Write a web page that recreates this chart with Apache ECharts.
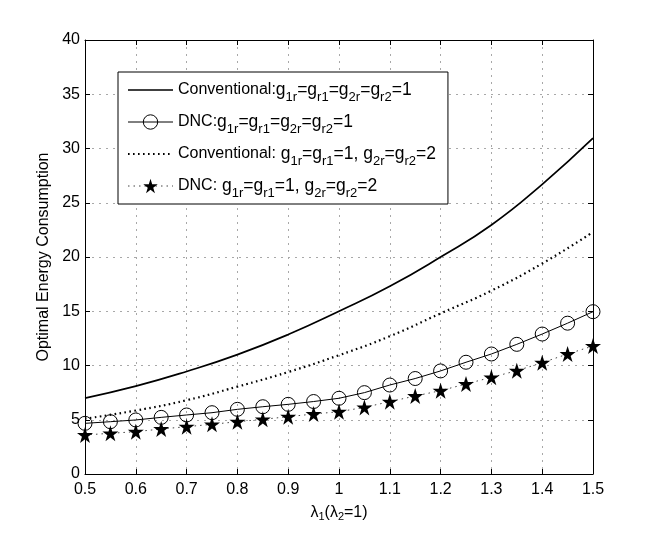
<!DOCTYPE html>
<html>
<head>
<meta charset="UTF-8">
<title>Optimal Energy Consumption</title>
<script src="https://cdn.jsdelivr.net/npm/echarts@6/dist/echarts.min.js"></script>
<style>
  html, body { margin: 0; padding: 0; background: #fff; }
  #main { width: 654px; height: 541px; }
</style>
</head>
<body>
<div id="main"></div>
<script>
// x values: markers every 0.05, plain curves read every 0.1
var xFine = [0.5, 0.55, 0.6, 0.65, 0.7, 0.75, 0.8, 0.85, 0.9, 0.95, 1.0,
             1.05, 1.1, 1.15, 1.2, 1.25, 1.3, 1.35, 1.4, 1.45, 1.5];
var xCoarse = [0.5, 0.6, 0.7, 0.8, 0.9, 1.0, 1.1, 1.2, 1.3, 1.4, 1.5];

// conventional, all gains 1 (solid)
var convSame = [7.0, 8.1, 9.45, 11.0, 12.85, 15.0, 17.3, 20.0, 22.95, 26.7, 30.95];
// DNC, all gains 1 (circles)
var dncSame = [4.67, 4.82, 4.98, 5.22, 5.44, 5.65, 5.96, 6.2, 6.42, 6.68, 6.98,
               7.5, 8.2, 8.8, 9.5, 10.3, 11.06, 11.95, 12.9, 13.9, 14.96];
// conventional, g2 = 2 (dotted)
var convDiff = [5.1, 5.85, 6.8, 8.05, 9.4, 10.95, 12.7, 14.8, 16.9, 19.4, 22.3];
// DNC, g2 = 2 (stars)
var dncDiff = [3.6, 3.75, 3.9, 4.15, 4.36, 4.58, 4.82, 5.04, 5.28, 5.53, 5.74,
               6.14, 6.67, 7.19, 7.68, 8.3, 8.91, 9.52, 10.26, 11.06, 11.8];

var legendText = {
  conv1: '{w|Conventional:}{m|g}{s|1r}{m|=g}{s|r1}{m|=g}{s|2r}{m|=g}{s|r2}{m|=1}',
  dnc1: '{w|DNC:}{m|g}{s|1r}{m|=g}{s|r1}{m|=g}{s|2r}{m|=g}{s|r2}{m|=1}',
  conv2: '{w|Conventional:}{m| g}{s|1r}{m|=g}{s|r1}{m|=1, g}{s|2r}{m|=g}{s|r2}{m|=2}',
  dnc2: '{w|DNC:}{m| g}{s|1r}{m|=g}{s|r1}{m|=1, g}{s|2r}{m|=g}{s|r2}{m|=2}'
};

function pairs(xs, ys) {
  return xs.map(function (x, i) { return [x, ys[i]]; });
}

var FONT = '"Liberation Sans", Arial, sans-serif';
var STAR = 'path://M0,-10L2.245,-3.09L9.51,-3.09L3.633,1.18L5.878,8.09L0,3.82L-5.878,8.09L-3.633,1.18L-9.51,-3.09L-2.245,-3.09Z';

// legend: words 16px, symbols a bit wider, subscripts dropped below baseline
var legendRich = {
  w: { fontSize: 16, fontFamily: FONT, color: '#000', lineHeight: 28 },
  m: { fontSize: 17.5, fontFamily: FONT, color: '#000', lineHeight: 28 },
  s: { fontSize: 13, fontFamily: FONT, color: '#000', lineHeight: 13, verticalAlign: 'bottom', padding: [15, 0, 0, 0] }
};
var nameRich = {
  m: { fontSize: 16, fontFamily: FONT, color: '#000', lineHeight: 18, verticalAlign: 'top' },
  s: { fontSize: 11, fontFamily: FONT, color: '#000', lineHeight: 11, verticalAlign: 'bottom', padding: [9, 0, 0, 0] }
};

var gridDots = { show: true, lineStyle: { color: '#a8a8a8', width: 1, type: [2, 5] } };
var tickIn = { show: true, inside: true, length: 5, lineStyle: { color: '#000' } };
var frameLine = { show: true, onZero: false, lineStyle: { color: '#000', width: 1 } };

var chart = echarts.init(document.getElementById('main'));
chart.setOption({
  animation: false,
  backgroundColor: '#fff',
  grid: { left: 85, right: 61, top: 40, bottom: 67 },
  legend: {
    orient: 'vertical',
    left: 118,
    top: 72,
    data: [
      { name: 'conv1', itemStyle: { opacity: 0 }, lineStyle: { width: 1.6 } },
      { name: 'dnc1', itemStyle: { borderWidth: 1 }, lineStyle: { width: 1 } },
      { name: 'conv2', itemStyle: { opacity: 0 }, lineStyle: { width: 2 } },
      { name: 'dnc2', lineStyle: { width: 1 } }
    ],
    itemWidth: 45,
    itemHeight: 18,
    itemGap: 4,
    padding: [4, 12, 4, 9],
    backgroundColor: '#fff',
    borderColor: '#000',
    borderWidth: 1,
    selectedMode: false,
    formatter: function (n) { return legendText[n]; },
    textStyle: { fontSize: 16, fontFamily: FONT, color: '#000', rich: legendRich }
  },
  xAxis: [{
    type: 'value',
    position: 'bottom',
    min: 0.5, max: 1.5, interval: 0.1,
    axisLine: frameLine,
    axisTick: tickIn,
    splitLine: gridDots,
    axisLabel: { color: '#000', fontSize: 16, fontFamily: FONT, margin: 8 },
    name: '{m|λ}{s|1}{m|(λ}{s|2}{m|=1)}',
    nameLocation: 'middle',
    nameGap: 27,
    nameTextStyle: { rich: nameRich }
  }, {
    type: 'value',
    position: 'top',
    min: 0.5, max: 1.5, interval: 0.1,
    axisLine: frameLine,
    axisTick: tickIn,
    axisLabel: { show: false },
    splitLine: { show: false }
  }],
  yAxis: [{
    type: 'value',
    position: 'left',
    min: 0, max: 40, interval: 5,
    axisLine: frameLine,
    axisTick: tickIn,
    splitLine: gridDots,
    axisLabel: { color: '#000', fontSize: 16, fontFamily: FONT, margin: 5 },
    name: 'Optimal Energy Consumption',
    nameLocation: 'middle',
    nameGap: 33,
    nameTextStyle: { color: '#000', fontSize: 16, fontFamily: FONT }
  }, {
    type: 'value',
    position: 'right',
    min: 0, max: 40, interval: 5,
    axisLine: frameLine,
    axisTick: tickIn,
    axisLabel: { show: false },
    splitLine: { show: false }
  }],
  series: [{
    name: 'conv1',
    type: 'line',
    data: pairs(xCoarse, convSame),
    smooth: 0.5,
    symbol: 'none',
    lineStyle: { color: '#000', width: 1.7 },
    itemStyle: { color: '#000' }
  }, {
    name: 'dnc1',
    type: 'line',
    data: pairs(xFine, dncSame),
    symbol: 'circle',
    symbolSize: 14,
    lineStyle: { color: '#000', width: 1 },
    itemStyle: { color: 'rgba(255,255,255,0)', borderColor: '#000', borderWidth: 1 }
  }, {
    name: 'conv2',
    type: 'line',
    data: pairs(xCoarse, convDiff),
    smooth: 0.5,
    symbol: 'none',
    lineStyle: { color: '#000', width: 2.2, type: [1.6, 3.4] },
    itemStyle: { color: '#000' }
  }, {
    name: 'dnc2',
    type: 'line',
    data: pairs(xFine, dncDiff),
    symbol: STAR,
    symbolSize: 16,
    lineStyle: { color: '#444', width: 1, type: [1.5, 4] },
    itemStyle: { color: '#000' }
  }]
});
</script>
</body>
</html>
